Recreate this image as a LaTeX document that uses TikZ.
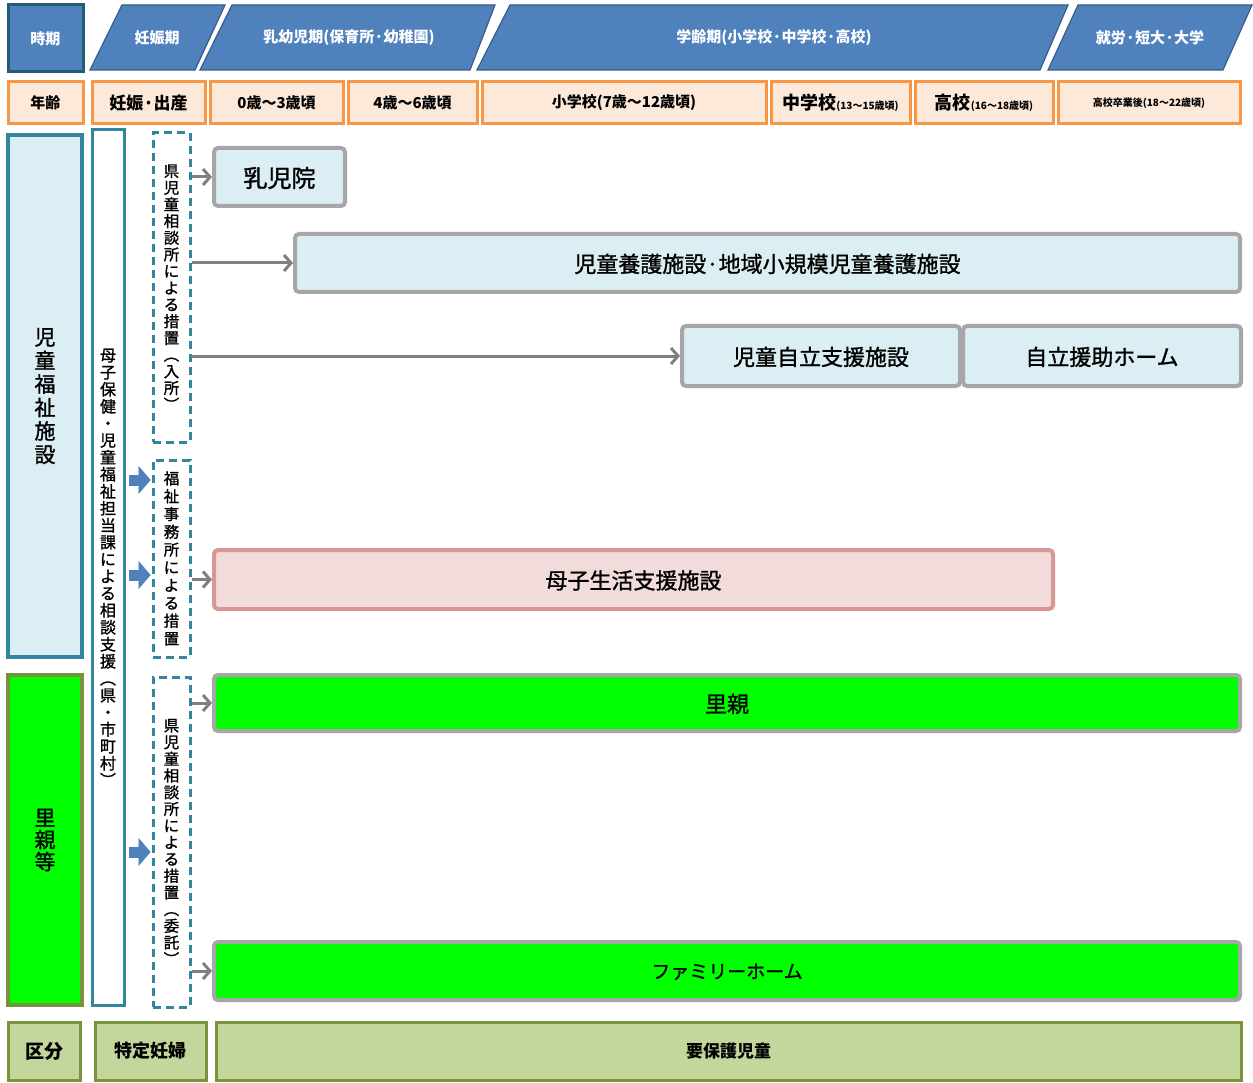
\documentclass[tikz,border=0pt]{standalone}
\usepackage{fontspec}
\setmainfont{Noto Sans CJK JP}
\newfontfamily\medfont[FakeBold=1.2]{Noto Sans CJK JP}
\usetikzlibrary{arrows.meta}
\definecolor{hdrblue}{HTML}{4F81BD}
\definecolor{hdrline}{HTML}{385D8A}
\definecolor{jikiline}{HTML}{215E72}
\definecolor{orfill}{HTML}{FDE9D9}
\definecolor{orline}{HTML}{F79646}
\definecolor{ltblue}{HTML}{DBEEF3}
\definecolor{tealc}{HTML}{31859C}
\definecolor{grayline}{HTML}{A6A6A6}
\definecolor{pinkfill}{HTML}{F2DCDB}
\definecolor{pinkline}{HTML}{D99694}
\definecolor{brgreen}{HTML}{00FF00}
\definecolor{oliveline}{HTML}{77933C}
\definecolor{botfill}{HTML}{C3D69B}
\definecolor{arrgray}{HTML}{808080}
\makeatletter
\newcommand\vt[2]{\vbox{\baselineskip=#1\lineskiplimit=-20pt\lineskip=0pt\vt@#2\@nil}}
\def\vt@#1{\ifx\@nil#1\else\hbox to 1em{\hss#1\hss}\expandafter\vt@\fi}
\makeatother
\tikzset{
  hdr/.style={fill=hdrblue, draw=hdrline, line width=1.2pt},
  hdrtext/.style={text=white, font=\bfseries\fontsize{15}{15}\selectfont, inner sep=0pt},
  agebox/.style={fill=orfill, draw=orline, line width=3pt, font=\bfseries\fontsize{15}{15}\selectfont, inner sep=0pt},
  sbox/.style={fill=ltblue, draw=grayline, line width=4pt, rounded corners=4pt, inner sep=0pt, text depth=-2pt, font=\medfont\fontsize{22}{22}\selectfont},
  dbox/.style={draw=tealc, dash pattern=on 8pt off 5pt, line width=3pt, inner sep=0pt},
  garrow/.style={draw=arrgray, line width=3pt, -{Straight Barb[length=7pt,width=16pt]}},
  barrow/.style={draw=hdrblue, line width=11pt, -{Triangle[length=12pt,width=28pt,line width=0.1pt]}},
  botbox/.style={fill=botfill, draw=oliveline, line width=3pt, inner sep=0pt, font=\bfseries\fontsize{17}{17}\selectfont}
}
\begin{document}
\begin{tikzpicture}[x=1pt,y=-1pt]
\useasboundingbox[fill=white] (0,0) rectangle (1253,1083);
% ---- header row
\node[fill=hdrblue, draw=jikiline, line width=3pt, minimum width=75pt, minimum height=67pt, inner sep=0pt, text=white, font=\bfseries\fontsize{15}{15}\selectfont] (jiki) at (45.5,38.5) {時期};
\path[hdr] (90,70) -- (122,5) -- (225,5) -- (195,70) -- cycle;
\node[hdrtext] (p1) at (157,38) {妊娠期};
\path[hdr] (200,70) -- (232,5) -- (495,5) -- (470,70) -- cycle;
\node[hdrtext] (p2) at (349,38) {乳幼児期(保育所·幼稚園)};
\path[hdr] (477,70) -- (510,5) -- (1068,5) -- (1040,70) -- cycle;
\node[hdrtext] (p3) at (774,38) {学齢期(小学校·中学校·高校)};
\path[hdr] (1048,70) -- (1078,5) -- (1252,5) -- (1223,70) -- cycle;
\node[hdrtext] (p4) at (1150,38) {就労·短大·大学};
% ---- age row
\node[agebox, minimum width=75pt, minimum height=42pt] (a0) at (45.5,103) {年齢};
\node[agebox, minimum width=113pt, minimum height=42pt, font=\bfseries\fontsize{17}{17}\selectfont] (a1) at (148.5,103) {妊娠·出産};
\node[agebox, minimum width=133pt, minimum height=42pt] (a2) at (276.5,103) {0歳〜3歳頃};
\node[agebox, minimum width=129pt, minimum height=42pt] (a3) at (412.5,103) {4歳〜6歳頃};
\node[agebox, minimum width=284pt, minimum height=42pt] (a4) at (624,103) {小学校(7歳〜12歳頃)};
\node[agebox, minimum width=139pt, minimum height=42pt, font=\bfseries\fontsize{18}{18}\selectfont] (a5) at (840.5,103) {中学校{\fontsize{10}{10}\selectfont(13〜15歳頃)}};
\node[agebox, minimum width=138pt, minimum height=42pt, font=\bfseries\fontsize{18}{18}\selectfont] (a6) at (984,103) {高校{\fontsize{10}{10}\selectfont(16〜18歳頃)}};
\node[agebox, minimum width=182pt, minimum height=42pt, font=\bfseries\fontsize{10}{10}\selectfont] (a7) at (1149,103) {高校卒業後(18〜22歳頃)};
% ---- left columns
\node[fill=ltblue, draw=tealc, line width=3.5pt, minimum width=74pt, minimum height=522pt, inner sep=0pt, font=\medfont\fontsize{21}{21}\selectfont] (fac) at (45,396) {\vt{23.5pt}{児童福祉施設}};
\node[fill=brgreen, draw=oliveline, line width=3.5pt, minimum width=74pt, minimum height=330pt, inner sep=0pt, font=\medfont\fontsize{21}{21}\selectfont] (sato) at (45,840) {\vt{22pt}{里親等}};
\node[fill=white, draw=tealc, line width=3pt, minimum width=32pt, minimum height=875pt, inner sep=0pt, font=\medfont\fontsize{16}{16}\selectfont] (m) at (108,567.5) {\vt{17pt}{母子保健・児童福祉担当課による相談支援︵県・市町村︶}};
\node[dbox, minimum width=37pt, minimum height=309pt, font=\medfont\fontsize{15.5}{15.5}\selectfont] (d1) at (171.5,287.5) {\vt{16.7pt}{県児童相談所による措置︵入所︶}};
\node[dbox, minimum width=37pt, minimum height=197pt, font=\medfont\fontsize{15.5}{15.5}\selectfont] (d2) at (171.5,558.5) {\vt{17.8pt}{福祉事務所による措置}};
\node[dbox, minimum width=37pt, minimum height=330pt, font=\medfont\fontsize{15.5}{15.5}\selectfont] (d3) at (171.5,842) {\vt{16.7pt}{県児童相談所による措置︵委託︶}};
% ---- facility boxes
\node[sbox, minimum width=131pt, minimum height=58pt, font=\medfont\fontsize{24}{24}\selectfont] (n1) at (279.5,177) {乳児院};
\node[sbox, minimum width=945pt, minimum height=58pt] (n2) at (767.5,263) {児童養護施設·地域小規模児童養護施設};
\node[sbox, minimum width=278pt, minimum height=60pt] (n3) at (821,356) {児童自立支援施設};
\node[sbox, minimum width=278pt, minimum height=60pt] (n4) at (1102,356) {自立援助ホーム};
\node[sbox, fill=pinkfill, draw=pinkline, minimum width=839pt, minimum height=59pt] (n5) at (633.5,579.5) {母子生活支援施設};
\node[sbox, fill=brgreen, minimum width=1026pt, minimum height=56pt] (n6) at (727,703) {里親};
\node[sbox, fill=brgreen, minimum width=1026pt, minimum height=58pt, font=\medfont\fontsize{19}{19}\selectfont] (n7) at (727,971) {ファミリーホーム};
% ---- bottom row
\node[botbox, minimum width=72pt, minimum height=58pt, font=\bfseries\fontsize{19}{19}\selectfont] (b0) at (44,1051) {区分};
\node[botbox, minimum width=111pt, minimum height=58pt, font=\bfseries\fontsize{18}{18}\selectfont] (b1) at (150.5,1051) {特定妊婦};
\node[botbox, minimum width=1025pt, minimum height=58pt] (b2) at (728.5,1051) {要保護児童};
% ---- gray arrows
\draw[garrow] (d1.east |- n1.west) -- (n1.west);
\draw[garrow] (d1.east |- n2.west) -- (n2.west);
\draw[garrow] (d1.east |- n3.west) -- (n3.west);
\draw[garrow] (d2.east |- n5.west) -- (n5.west);
\draw[garrow] (d3.east |- n6.west) -- (n6.west);
\draw[garrow] (d3.east |- n7.west) -- (n7.west);
% ---- blue block arrows
\coordinate (ba1) at (m.east |- 0,480);
\coordinate (ba2) at (m.east |- 0,575);
\coordinate (ba3) at (m.east |- 0,852);
\draw[barrow, shorten <=3pt, shorten >=1pt] (ba1) -- (d2.west |- ba1);
\draw[barrow, shorten <=3pt, shorten >=1pt] (ba2) -- (d2.west |- ba2);
\draw[barrow, shorten <=3pt, shorten >=1pt] (ba3) -- (d3.west |- ba3);
\end{tikzpicture}
\end{document}
